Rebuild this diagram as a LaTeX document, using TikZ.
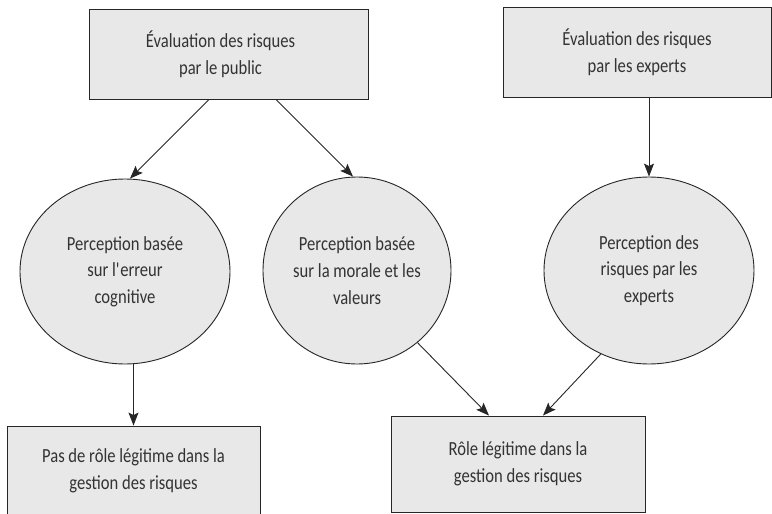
\documentclass[tikz,border=0pt]{standalone}
\usepackage{fontspec}
\setmainfont[FakeStretch=0.83]{Carlito}
\usetikzlibrary{arrows.meta,shapes.geometric}
\definecolor{boxfill}{HTML}{E8E8E8}
\definecolor{linec}{HTML}{262626}
\definecolor{txtc}{HTML}{333333}
\begin{document}
\begin{tikzpicture}[x=1pt,y=-1pt,
  every node/.style={font=\fontsize{20}{26.7}\selectfont, text=txtc, align=center},
  boxnode/.style={draw=linec, line width=0.9pt, fill=boxfill, rectangle, inner sep=0pt},
  ellnode/.style={draw=linec, line width=0.9pt, fill=boxfill, ellipse, inner sep=0pt},
  arr/.style={draw=linec, line width=0.9pt, -{Stealth[length=13pt,width=10pt,inset=2.5pt]}}]
\clip (0,0) rectangle (772,514);
\fill[white] (0,0) rectangle (772,514);
\node[boxnode, minimum width=279pt, minimum height=90pt] (tl) at (228.5,54) {Évaluation des risques\hspace*{16pt}\\par le public\hspace*{16pt}};
\node[boxnode, minimum width=268pt, minimum height=90pt] (tr) at (637,52) {Évaluation des risques\\par les experts};
\node[ellnode, minimum width=210pt, minimum height=185pt] (le) at (125,271.5) {Perception basée\\sur l\textquotesingle erreur\\cognitive};
\node[ellnode, minimum width=188pt, minimum height=187pt] (me) at (357,270.5) {Perception basée\\sur la morale et les\\valeurs};
\node[ellnode, minimum width=210pt, minimum height=187pt] (re) at (649,270.5) {Perception des\\risques par les\\experts};
\node[boxnode, minimum width=253pt, minimum height=90pt] (bl) at (133.5,471) {Pas de rôle légitime dans la\\gestion des risques};
\node[boxnode, minimum width=254pt, minimum height=96pt] (br) at (518,464) {Rôle légitime dans la\\gestion des risques};
\draw[arr] ([xshift=-19.5pt]tl.south) -- ([xshift=5pt]le.north);
\draw[arr] ([xshift=47.5pt]tl.south) -- ([xshift=-4pt]me.north);
\draw[arr] (tr.south -| re.north) -- (re.north);
\draw[arr] (bl.north |- le.south) -- (bl.north);
\draw[arr] (me.-50) -- ([xshift=-29pt]br.north);
\draw[arr] (re.-120) -- ([xshift=25pt]br.north);
\end{tikzpicture}
\end{document}
